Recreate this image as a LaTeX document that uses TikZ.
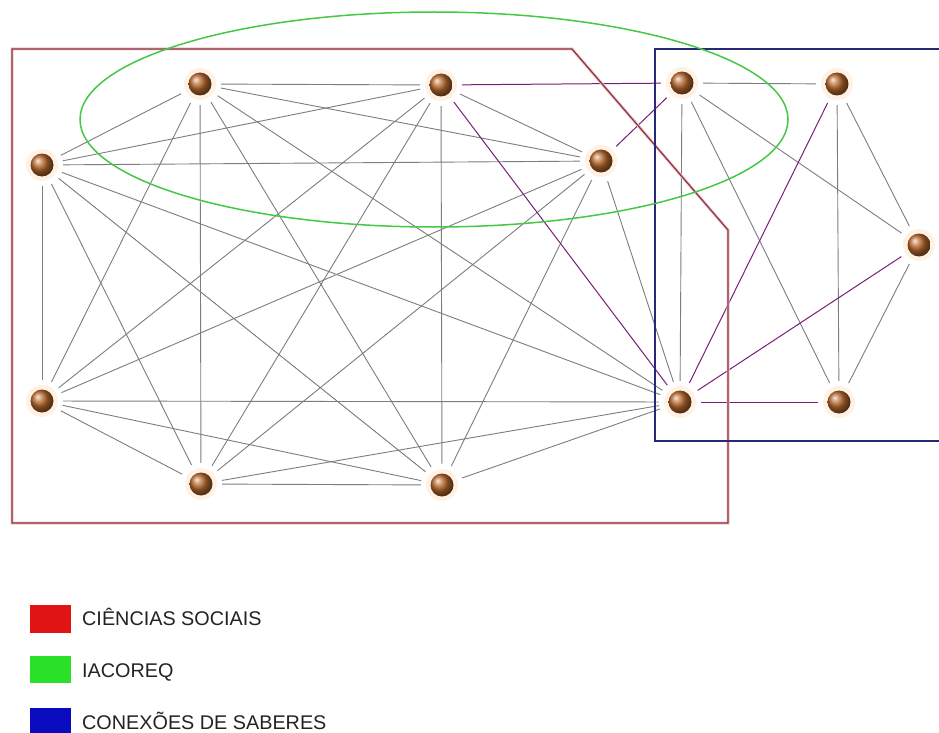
\documentclass[tikz,border=0pt]{standalone}
\usepackage{fontspec}
\setmainfont{Liberation Sans}
\definecolor{ballc}{RGB}{185,105,45}
\definecolor{edgegray}{RGB}{125,125,125}
\definecolor{edgepurple}{RGB}{120,30,120}
\definecolor{redbox}{RGB}{150,45,60}
\definecolor{bluebox}{RGB}{40,40,120}
\definecolor{greenell}{RGB}{70,200,70}
\definecolor{legred}{RGB}{225,20,20}
\definecolor{leggreen}{RGB}{40,225,40}
\definecolor{legblue}{RGB}{10,10,190}
\definecolor{legtext}{RGB}{35,35,35}
\tikzset{
  vertex/.style={circle, minimum size=42pt, inner sep=0pt},
  gedge/.style={draw=edgegray, line width=0.9pt},
  pedge/.style={draw=edgepurple, line width=1pt},
  halo/.style={fill=orange!10},
  legbox/.style={line width=0pt},
  legtxt/.style={anchor=base west, inner sep=0pt, text=legtext, font=\fontsize{19.8pt}{22pt}\selectfont}
}
\begin{document}
\begin{tikzpicture}[x=1pt,y=-1pt]
\useasboundingbox[fill=white] (0,0) rectangle (939,733);
% nodes
\node[vertex] (A) at (200,84) {};
\node[vertex] (B) at (441,85) {};
\node[vertex] (C) at (42,165) {};
\node[vertex] (D) at (601,161) {};
\node[vertex] (E) at (682,83) {};
\node[vertex] (F) at (837,84) {};
\node[vertex] (G) at (919,245) {};
\node[vertex] (H) at (42,401) {};
\node[vertex] (I) at (201,484) {};
\node[vertex] (J) at (442,485) {};
\node[vertex] (K) at (680,402) {};
\node[vertex] (L) at (839,402) {};
% halos
\foreach \n in {A,B,C,D,E,F,G,H,I,J,K,L}
  \fill[halo] (\n.center) circle (16pt);
% gray edges: left cluster
\foreach \u/\v in {A/B,A/C,A/D,A/H,A/I,A/J,A/K,
                   B/C,B/D,B/H,B/I,B/J,
                   C/D,C/H,C/I,C/J,C/K,
                   D/H,D/I,D/J,D/K,
                   H/I,H/J,H/K,
                   I/J,I/K,J/K}
  \draw[gedge] (\u) -- (\v);
% gray edges: right cluster
\foreach \u/\v in {E/F,E/G,E/K,E/L,F/G,F/L,G/L}
  \draw[gedge] (\u) -- (\v);
% purple edges
\foreach \u/\v in {B/E,B/K,D/E,K/F,K/G,K/L}
  \draw[pedge] (\u) -- (\v);
% group outlines
\draw[redbox!25, line width=3pt] (12,49) -- (572,49) -- (728,230) -- (728,523) -- (12,523) -- cycle;
\draw[redbox, line width=1.2pt] (12,49) -- (572,49) -- (728,230) -- (728,523) -- (12,523) -- cycle;
\draw[bluebox, line width=1.3pt] (940,49) -- (655,49) -- (655,441) -- (940,441);
\draw[greenell, line width=1.5pt] (434,119.5) ellipse [x radius=354pt, y radius=107.5pt];
% balls
\foreach \n in {A,B,C,D,E,F,G,H,I,J,K,L}
  \shade[ball color=ballc] (\n.center) circle (11.5pt);
% legend
\node[legbox, fill=legred, minimum width=41pt, minimum height=28pt, inner sep=0pt] (lr) at (50,618.5) {};
\node[legbox, fill=leggreen, minimum width=41pt, minimum height=27pt, inner sep=0pt] (lg) at (50,669.5) {};
\node[legbox, fill=legblue, minimum width=41pt, minimum height=26pt, inner sep=0pt] (lb) at (50,721) {};
\node[legtxt] (tr) at (82,625) {CIÊNCIAS SOCIAIS};
\node[legtxt] (tg) at (82,677) {IACOREQ};
\node[legtxt] (tb) at (82,729) {CONEXÕES DE SABERES};
\end{tikzpicture}
\end{document}
